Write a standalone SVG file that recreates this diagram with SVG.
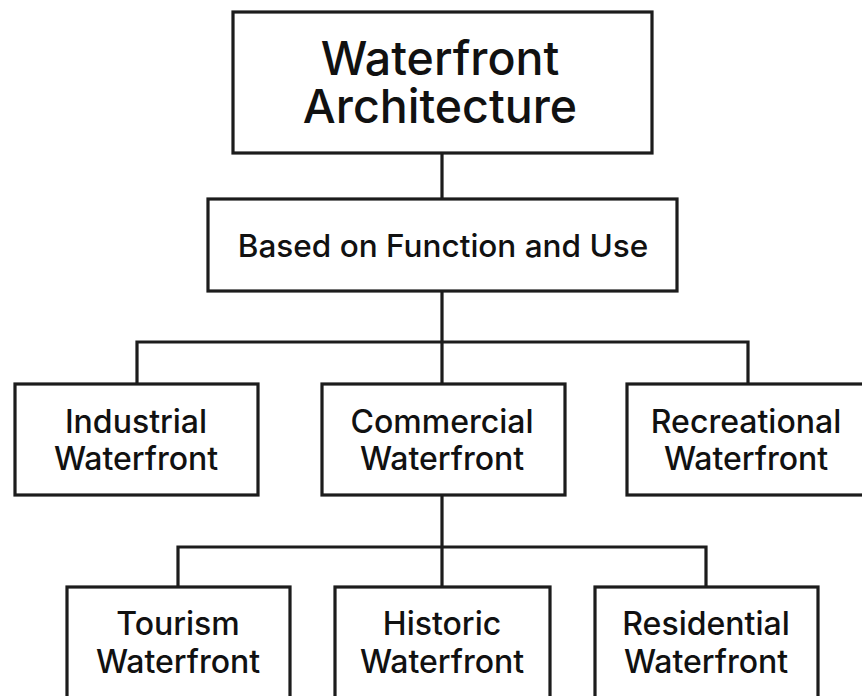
<svg xmlns="http://www.w3.org/2000/svg" width="862" height="696" viewBox="0 0 862 696">
  <style>
    .box { fill: #ffffff; stroke: #1c1c1c; stroke-width: 3.2; }
    .link { fill: none; stroke: #1c1c1c; stroke-width: 3.2; }
    text { font-family: Inter, "Liberation Sans", sans-serif; font-weight: 500; fill: #111111; text-anchor: middle; }
    .title { font-size: 46.5px; }
    .sub { font-size: 31.5px; }
    .leaf { font-size: 32px; }
  </style>
  <rect width="862" height="696" fill="#ffffff"/>

  <!-- connectors -->
  <g id="connectors">
    <path class="link" d="M442 153 V199"/>
    <path class="link" d="M442 291 V342 M137 384 V342 H748 V384 M442 342 V384"/>
    <path class="link" d="M442 495 V547 M178 587 V547 H706 V587 M442 547 V587"/>
  </g>

  <g id="root">
    <rect class="box" x="233" y="12" width="419" height="141"/>
    <text class="title" x="440" y="75">Waterfront</text>
    <text class="title" x="440" y="123">Architecture</text>
  </g>

  <g id="function-use">
    <rect class="box" x="208" y="199" width="469" height="92"/>
    <text class="sub" x="443" y="257">Based on Function and Use</text>
  </g>

  <g id="industrial">
    <rect class="box" x="15" y="384" width="243" height="111"/>
    <text class="leaf" x="136" y="433">Industrial</text>
    <text class="leaf" x="136" y="470">Waterfront</text>
  </g>

  <g id="commercial">
    <rect class="box" x="322" y="384" width="243" height="111"/>
    <text class="leaf" x="442" y="433">Commercial</text>
    <text class="leaf" x="442" y="470">Waterfront</text>
  </g>

  <g id="recreational">
    <rect class="box" x="627" y="384" width="245" height="111"/>
    <text class="leaf" x="746" y="433">Recreational</text>
    <text class="leaf" x="746" y="470">Waterfront</text>
  </g>

  <g id="tourism">
    <rect class="box" x="67" y="587" width="223" height="115"/>
    <text class="leaf" x="178" y="635">Tourism</text>
    <text class="leaf" x="178" y="673">Waterfront</text>
  </g>

  <g id="historic">
    <rect class="box" x="335" y="587" width="215" height="115"/>
    <text class="leaf" x="442" y="635">Historic</text>
    <text class="leaf" x="442" y="673">Waterfront</text>
  </g>

  <g id="residential">
    <rect class="box" x="595" y="587" width="223" height="115"/>
    <text class="leaf" x="706" y="635">Residential</text>
    <text class="leaf" x="706" y="673">Waterfront</text>
  </g>
</svg>
